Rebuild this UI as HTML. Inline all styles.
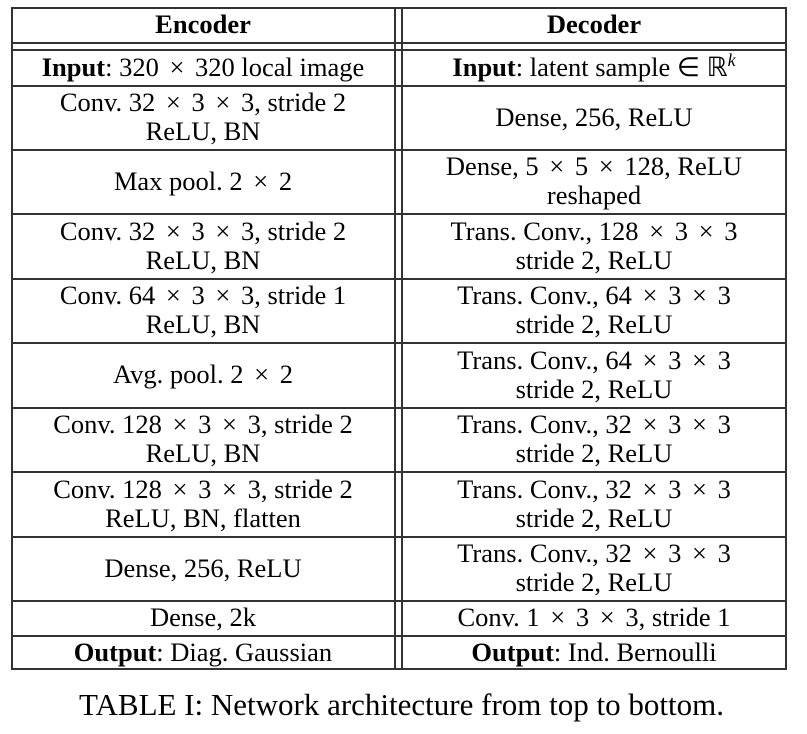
<!DOCTYPE html>
<html><head><meta charset="utf-8"><style>
body{margin:0;width:807px;height:734px;background:#fff;position:relative;overflow:hidden;font-family:"Liberation Serif",serif;color:#000}
.h{position:absolute;height:1.5px;background:#333}
.v{position:absolute;width:1.5px;background:#333}
.c{position:absolute;display:flex;align-items:center;justify-content:center;text-align:center;font-size:26.5px;line-height:29px;white-space:nowrap}
.c>span{display:block}
b{font-weight:bold}
i.x{font-style:normal;margin:0 4px}
sup{font-size:18px;font-style:italic;vertical-align:10px;line-height:0}
</style></head><body>
<div>
<div class="h" style="left:11px;width:775px;top:7px"></div>
<div class="h" style="left:11px;width:775px;top:42px"></div>
<div class="h" style="left:11px;width:775px;top:49px"></div>
<div class="h" style="left:11px;width:775px;top:668px"></div>
<div class="v" style="left:11px;top:7px;height:663px"></div>
<div class="v" style="left:394px;top:7px;height:663px"></div>
<div class="v" style="left:401px;top:7px;height:663px"></div>
<div class="v" style="left:785px;top:7px;height:663px"></div>
<div id="rows"></div>
</div>
<div class="c" style="left:0;width:803px;top:688px;height:32px;font-size:31px">TABLE I: Network architecture from top to bottom.</div>
<script>
const X='<i class="x">×</i>';
const enc=['<b>Encoder</b>','<b>Input</b>: 320 '+X+' 320 local image','Conv. 32 '+X+' 3 '+X+' 3, stride 2<br>ReLU, BN','Max pool. 2 '+X+' 2','Conv. 32 '+X+' 3 '+X+' 3, stride 2<br>ReLU, BN','Conv. 64 '+X+' 3 '+X+' 3, stride 1<br>ReLU, BN','Avg. pool. 2 '+X+' 2','Conv. 128 '+X+' 3 '+X+' 3, stride 2<br>ReLU, BN','Conv. 128 '+X+' 3 '+X+' 3, stride 2<br>ReLU, BN, flatten','Dense, 256, ReLU','Dense, 2k','<b>Output</b>: Diag. Gaussian'];
const dec=['<b>Decoder</b>','<b>Input</b>: latent sample ∈ ℝ<sup>k</sup>','Dense, 256, ReLU','Dense, 5 '+X+' 5 '+X+' 128, ReLU<br>reshaped','Trans. Conv., 128 '+X+' 3 '+X+' 3<br>stride 2, ReLU','Trans. Conv., 64 '+X+' 3 '+X+' 3<br>stride 2, ReLU','Trans. Conv., 64 '+X+' 3 '+X+' 3<br>stride 2, ReLU','Trans. Conv., 32 '+X+' 3 '+X+' 3<br>stride 2, ReLU','Trans. Conv., 32 '+X+' 3 '+X+' 3<br>stride 2, ReLU','Trans. Conv., 32 '+X+' 3 '+X+' 3<br>stride 2, ReLU','Conv. 1 '+X+' 3 '+X+' 3, stride 1','<b>Output</b>: Ind. Bernoulli'];
const tops=[7,50,85,149,213,278,342,407,471,536,600,635,669];
const R=document.getElementById('rows');
for(let i=0;i<enc.length;i++){
 const t=tops[i],b=(i==0?42:tops[i+1]);
 if(i>=2){const l=document.createElement('div');l.className='h';l.style.cssText=`left:11px;width:775px;top:${t}px`;R.appendChild(l);}
 const a=document.createElement('div');a.className='c';a.style.cssText=`left:12px;width:382px;top:${t}px;height:${b-t}px`;a.innerHTML='<span>'+enc[i]+'</span>';
 
 
 R.appendChild(a);
 const d=document.createElement('div');d.className='c';d.style.cssText=`left:403px;width:382px;top:${t}px;height:${b-t}px`;d.innerHTML='<span>'+dec[i]+'</span>';
 
 
 R.appendChild(d);
}
</script>
</body></html>
